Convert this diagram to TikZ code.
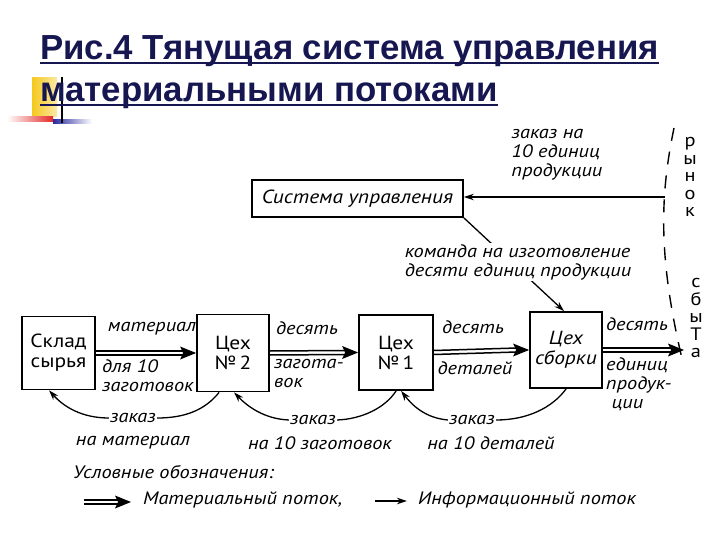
\documentclass[tikz,border=0pt]{standalone}
\usepackage{fontspec}
\setmainfont{Liberation Sans}
\newfontfamily\titlefont{Liberation Sans}
\newfontfamily\hand{PT Sans}[FakeStretch=1.13]
\usetikzlibrary{arrows.meta,calc}
\definecolor{titleblue}{RGB}{22,22,80}
\definecolor{goldsq}{RGB}{245,200,30}
\definecolor{redbar}{RGB}{230,40,40}
\definecolor{bluebar}{RGB}{40,40,160}
\newcommand\MatArrow[2]{%
  \draw[line width=1.5pt] ($(#1)+(0,-2)$) -- ($(#2)+(-12,-2)$);
  \draw[line width=1.5pt] ($(#1)+(0,2)$) -- ($(#2)+(-12,2)$);
  \fill (#2) -- ++(-16,-6.5) -- ++(3,6.5) -- ++(-3,6.5) -- cycle;}
\begin{document}
\begin{tikzpicture}[x=1pt,y=-1pt,
  box/.style={draw, line width=1.8pt, inner sep=0pt, align=center,
    font=\hand\fontsize{19}{20}\selectfont},
  lbl/.style={inner sep=1pt, align=left, font=\hand\itshape\fontsize{18}{19}\selectfont},
  vlet/.style={inner sep=0pt, align=center, font=\hand\fontsize{18}{17.5}\selectfont},
  info/.style={line width=1.3pt, -{Stealth[length=10pt,width=6.5pt]}},
  plain/.style={line width=1.3pt},
  mkt/.style={line width=1.4pt, dash pattern=on 13pt off 11pt}]
\useasboundingbox (0,0) rectangle (720,540);
% title decoration
\shade[left color=goldsq, right color=goldsq!40] (32,78) rectangle (57,117);
\shade[left color=white, right color=redbar] (7,117) rectangle (53,122);
\shade[left color=bluebar, right color=white] (53,120) rectangle (92,124);
\draw[line width=1.3pt] (62,77) -- (62,123);
% title
\node[anchor=base west, inner sep=0pt, text=titleblue,
  font=\titlefont\bfseries\fontsize{34.8}{40}\selectfont] (t1) at (40,60) {Рис.4 Тянущая система управления};
\node[anchor=base west, inner sep=0pt, text=titleblue,
  font=\titlefont\bfseries\fontsize{34.8}{40}\selectfont] (t2) at (40,102) {материальными потоками};
\draw[titleblue, line width=2pt] ($(t1.base west)+(0,3.5)$) -- ($(t1.base east)+(0,3.5)$);
\draw[titleblue, line width=2pt] ($(t2.base west)+(0,3.5)$) -- ($(t2.base east)+(0,3.5)$);
% boxes
\node[box, minimum width=211pt, minimum height=37pt, font=\hand\itshape\fontsize{19}{20}\selectfont] (sys) at (357.5,198.5) {Система управления};
\node[box, minimum width=73pt, minimum height=73pt] (sklad) at (58.5,353) {Склад\\сырья};
\node[box, minimum width=72pt, minimum height=77pt] (c2) at (233,353) {Цех\\№\,2};
\node[box, minimum width=74pt, minimum height=75pt] (c1) at (396,352.5) {Цех\\№\,1};
\node[box, minimum width=72pt, minimum height=76pt, font=\hand\itshape\fontsize{19}{20}\selectfont] (asm) at (566,350) {Цех\\сборки};
% market line
\draw[mkt] (674,128) .. controls (659,200) and (659,262) .. (683,363);
\coordinate (mktpt) at (665,197);
\coordinate (mktend) at (684,350);
\node[vlet] (rynok) at (690,177) {р\\ы\\н\\о\\к};
\node[vlet] (sbyta) at (696,318) {с\\б\\ы\\Т\\а};
% info: market -> system
\draw[info] (mktpt) -- (sys.east |- mktpt);
\node[lbl] (zak1) at (557,155) {заказ на\\10 единиц\\продукции};
% system -> assembly
\draw[info] (sys.south east) -- ($(asm.north)+(-2,0)$);
\node[lbl, fill=white] (cmd) at (518,262) {команда на изготовление\\десяти единиц продукции};
% material flows
\MatArrow{sklad.east}{c2.west}
\MatArrow{c2.east}{c1.west}
\MatArrow{c1.east}{asm.west}
\MatArrow{asm.east}{mktend}
% material labels
\node[lbl] (m1) at (152,329) {материал};
\node[lbl, anchor=north west] (m1b) at (101,358) {для 10\\заготовок};
\node[lbl] (m2) at (307,328) {десять};
\node[lbl, anchor=north west] (m2b) at (273,358) {загота-\\вок};
\node[lbl] (m3) at (473,327) {десять};
\node[lbl] (m3b) at (475,368) {деталей};
\node[lbl] (m4) at (637,324) {десять};
\node[lbl, anchor=north west] (m4b) at (605,356) {единиц\\продук-\\\ ции};
% order arcs
\node[lbl] (o1) at (133,418) {заказ};
\node[lbl] (o1b) at (133,443) {на материал};
\node[lbl] (o2) at (313,420) {заказ};
\node[lbl] (o2b) at (320,443) {на 10 заготовок};
\node[lbl] (o3) at (472,420) {заказ};
\node[lbl] (o3b) at (491,443) {на 10 деталей};
\draw[plain] ($(c2.south west)+(23,0)$) .. controls (205,410) and (185,418) .. (o1.east);
\draw[info] (o1.west) .. controls (82,418) and (64,407) .. ($(sklad.south west)+(28,0)$);
\draw[plain] ($(c1.south west)+(38,0)$) .. controls (385,408) and (362,419) .. (o2.east);
\draw[info] (o2.west) .. controls (264,419) and (247,406) .. ($(c2.south west)+(38,0)$);
\draw[plain] ($(asm.south west)+(37,0)$) .. controls (552,408) and (527,420) .. (o3.east);
\draw[info] (o3.west) .. controls (425,418) and (412,405) .. ($(c1.south west)+(43,0)$);
% legend
\node[lbl, anchor=west] (leg) at (72,472) {Условные обозначения:};
\coordinate (la) at (84,502);
\coordinate (lb) at (131,502);
\MatArrow{la}{lb}
\node[lbl, anchor=west] (legm) at (142,500) {Материальный поток,};
\coordinate (lc) at (375,501);
\coordinate (ld) at (407,501);
\draw[info] (lc) -- (ld);
\node[lbl, anchor=west] (legi) at (417,500) {Информационный поток};
\end{tikzpicture}
\end{document}
